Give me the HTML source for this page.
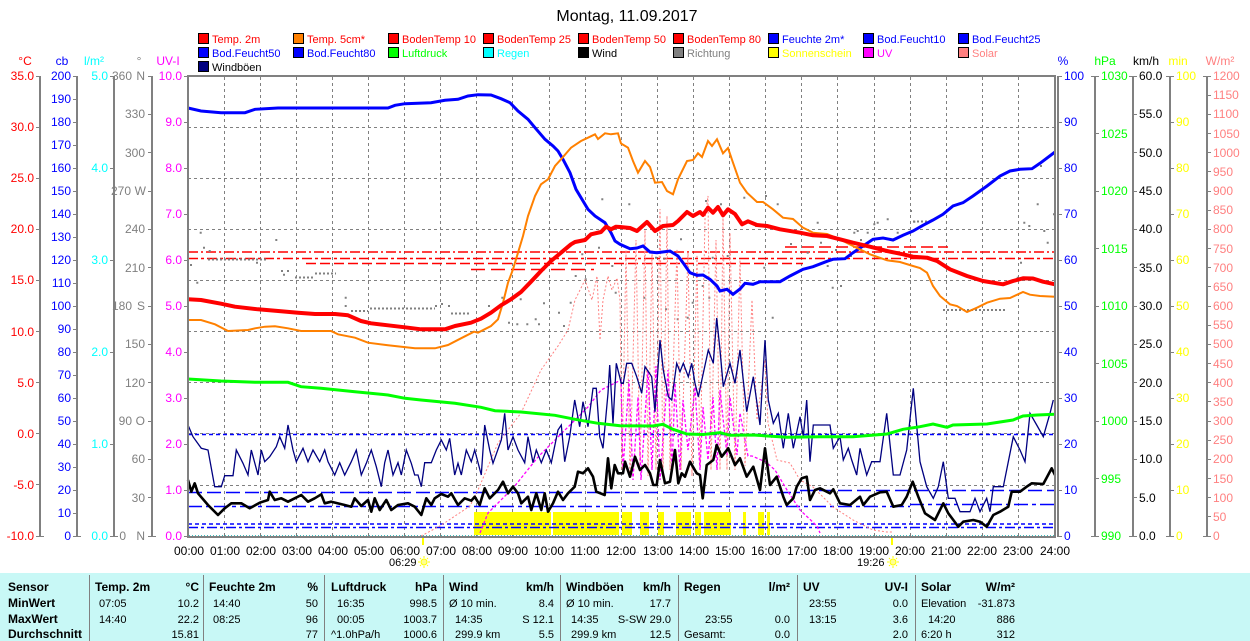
<!DOCTYPE html>
<html><head><meta charset="utf-8"><style>
html,body{margin:0;padding:0;background:#fff;}
svg{display:block;font-family:"Liberation Sans",Arial,sans-serif;}
</style></head><body>
<svg width="1250" height="641" viewBox="0 0 1250 641" xmlns="http://www.w3.org/2000/svg">
<rect width="1250" height="641" fill="#fff"/>
<text x="627" y="21" font-size="16" text-anchor="middle" fill="#000">Montag, 11.09.2017</text>

<!-- legend -->
<g font-size="11" stroke="none">
<g stroke="#000" stroke-width="1">
<rect x="198.5" y="33.5" width="10" height="10" fill="#ff0000"/>
<rect x="293.5" y="33.5" width="10" height="10" fill="#ff8000"/>
<rect x="388.5" y="33.5" width="10" height="10" fill="#ff0000"/>
<rect x="483.5" y="33.5" width="10" height="10" fill="#ff0000"/>
<rect x="578.5" y="33.5" width="10" height="10" fill="#ff0000"/>
<rect x="673.5" y="33.5" width="10" height="10" fill="#ff0000"/>
<rect x="768.5" y="33.5" width="10" height="10" fill="#0000ff"/>
<rect x="863.5" y="33.5" width="10" height="10" fill="#0000ff"/>
<rect x="958.5" y="33.5" width="10" height="10" fill="#0000ff"/>
<rect x="198.5" y="47.5" width="10" height="10" fill="#0000ff"/>
<rect x="293.5" y="47.5" width="10" height="10" fill="#0000ff"/>
<rect x="388.5" y="47.5" width="10" height="10" fill="#00ff00"/>
<rect x="483.5" y="47.5" width="10" height="10" fill="#00ffff"/>
<rect x="578.5" y="47.5" width="10" height="10" fill="#000000"/>
<rect x="673.5" y="47.5" width="10" height="10" fill="#808080"/>
<rect x="768.5" y="47.5" width="10" height="10" fill="#ffff00"/>
<rect x="863.5" y="47.5" width="10" height="10" fill="#ff00ff"/>
<rect x="958.5" y="47.5" width="10" height="10" fill="#ff8080"/>
<rect x="198.5" y="61.5" width="10" height="10" fill="#000080"/>
</g>
<text x="212" y="43" fill="#ff0000">Temp. 2m</text>
<text x="307" y="43" fill="#ff0000">Temp. 5cm*</text>
<text x="402" y="43" fill="#ff0000">BodenTemp 10</text>
<text x="497" y="43" fill="#ff0000">BodenTemp 25</text>
<text x="592" y="43" fill="#ff0000">BodenTemp 50</text>
<text x="687" y="43" fill="#ff0000">BodenTemp 80</text>
<text x="782" y="43" fill="#0000ff">Feuchte 2m*</text>
<text x="877" y="43" fill="#0000ff">Bod.Feucht10</text>
<text x="972" y="43" fill="#0000ff">Bod.Feucht25</text>
<text x="212" y="57" fill="#0000ff">Bod.Feucht50</text>
<text x="307" y="57" fill="#0000ff">Bod.Feucht80</text>
<text x="402" y="57" fill="#00ff00">Luftdruck</text>
<text x="497" y="57" fill="#00ffff">Regen</text>
<text x="592" y="57" fill="#000000">Wind</text>
<text x="687" y="57" fill="#808080">Richtung</text>
<text x="782" y="57" fill="#ffff00">Sonnenschein</text>
<text x="877" y="57" fill="#ff00ff">UV</text>
<text x="972" y="57" fill="#ff8080">Solar</text>
<text x="212" y="71" fill="#000000">Windböen</text>
</g>

<!-- axis titles -->
<g font-size="12">
<text x="25" y="65" text-anchor="middle" fill="#ff0000">°C</text>
<text x="62" y="65" text-anchor="middle" fill="#0000ff">cb</text>
<text x="94" y="65" text-anchor="middle" fill="#00ffff">l/m²</text>
<text x="139" y="65" text-anchor="middle" fill="#808080">°</text>
<text x="168" y="65" text-anchor="middle" fill="#ff00ff">UV-I</text>
<text x="1063" y="65" text-anchor="middle" fill="#0000ff">%</text>
<text x="1105" y="65" text-anchor="middle" fill="#00ff00">hPa</text>
<text x="1146" y="65" text-anchor="middle" fill="#000">km/h</text>
<text x="1178" y="65" text-anchor="middle" fill="#ffff00">min</text>
<text x="1220" y="65" text-anchor="middle" fill="#ff8080">W/m²</text>
</g>

<!-- axis lines -->
<g stroke="#808080" stroke-width="2" fill="none">
<path d="M40 76V537M77 76V537M114 76V537M152 76V537M1095 76V537M1133 76V537M1170 76V537M1207 76V537"/>
</g>
<g stroke="#808080" stroke-width="1" fill="none">
<path d="M36 76.5H40M36 127.5H40M36 178.5H40M36 229.5H40M36 280.5H40M36 331.5H40M36 382.5H40M36 433.5H40M36 484.5H40M36 536.5H44"/>
<path d="M73 76.5H77M73 99.5H77M73 122.5H77M73 145.5H77M73 168.5H77M73 191.5H77M73 214.5H77M73 237.5H77M73 260.5H77M73 283.5H77M73 306.5H77M73 329.5H77M73 352.5H77M73 375.5H77M73 398.5H77M73 421.5H77M73 444.5H77M73 467.5H77M73 490.5H77M73 513.5H77M73 536.5H81"/>
<path d="M110 76.5H114M110 168.5H114M110 260.5H114M110 352.5H114M110 444.5H114M110 536.5H118"/>
<path d="M148 76.5H152M148 114.5H152M148 152.5H152M148 191.5H152M148 229.5H152M148 267.5H152M148 306.5H152M148 344.5H152M148 382.5H152M148 421.5H152M148 459.5H152M148 497.5H152M148 536.5H156"/>
<path d="M184 76.5H188M184 122.5H188M184 168.5H188M184 214.5H188M184 260.5H188M184 306.5H188M184 352.5H188M184 398.5H188M184 444.5H188M184 490.5H188M184 536.5H188"/>
<path d="M1058 76.5H1062M1058 122.5H1062M1058 168.5H1062M1058 214.5H1062M1058 260.5H1062M1058 306.5H1062M1058 352.5H1062M1058 398.5H1062M1058 444.5H1062M1058 490.5H1062M1058 536.5H1062"/>
<path d="M1091 76.5H1099M1095 133.5H1099M1095 191.5H1099M1095 248.5H1099M1095 306.5H1099M1095 363.5H1099M1095 421.5H1099M1095 478.5H1099M1091 536.5H1099"/>
<path d="M1129 76.5H1137M1133 114.5H1137M1133 152.5H1137M1133 191.5H1137M1133 229.5H1137M1133 267.5H1137M1133 306.5H1137M1133 344.5H1137M1133 382.5H1137M1133 421.5H1137M1133 459.5H1137M1133 497.5H1137M1129 536.5H1137"/>
<path d="M1166 76.5H1174M1170 122.5H1174M1170 168.5H1174M1170 214.5H1174M1170 260.5H1174M1170 306.5H1174M1170 352.5H1174M1170 398.5H1174M1170 444.5H1174M1170 490.5H1174M1166 536.5H1174"/>
<path d="M1203 76.5H1211M1207 95.5H1211M1207 114.5H1211M1207 133.5H1211M1207 152.5H1211M1207 171.5H1211M1207 191.5H1211M1207 210.5H1211M1207 229.5H1211M1207 248.5H1211M1207 267.5H1211M1207 286.5H1211M1207 306.5H1211M1207 325.5H1211M1207 344.5H1211M1207 363.5H1211M1207 382.5H1211M1207 401.5H1211M1207 421.5H1211M1207 440.5H1211M1207 459.5H1211M1207 478.5H1211M1207 497.5H1211M1207 516.5H1211M1203 536.5H1211"/>
</g>

<!-- axis labels -->
<g font-size="12">
<g fill="#ff0000" text-anchor="end">
<text x="34" y="80">35.0</text><text x="34" y="131">30.0</text><text x="34" y="182">25.0</text><text x="34" y="233">20.0</text><text x="34" y="284">15.0</text><text x="34" y="336">10.0</text><text x="34" y="387">5.0</text><text x="34" y="438">0.0</text><text x="34" y="489">-5.0</text><text x="34" y="540">-10.0</text>
</g>
<g fill="#0000ff" text-anchor="end">
<text x="71" y="80">200</text><text x="71" y="103">190</text><text x="71" y="126">180</text><text x="71" y="149">170</text><text x="71" y="172">160</text><text x="71" y="195">150</text><text x="71" y="218">140</text><text x="71" y="241">130</text><text x="71" y="264">120</text><text x="71" y="287">110</text><text x="71" y="310">100</text><text x="71" y="333">90</text><text x="71" y="356">80</text><text x="71" y="379">70</text><text x="71" y="402">60</text><text x="71" y="425">50</text><text x="71" y="448">40</text><text x="71" y="471">30</text><text x="71" y="494">20</text><text x="71" y="517">10</text><text x="71" y="540">0</text>
</g>
<g fill="#00ffff" text-anchor="end">
<text x="108" y="80">5.0</text><text x="108" y="172">4.0</text><text x="108" y="264">3.0</text><text x="108" y="356">2.0</text><text x="108" y="448">1.0</text><text x="108" y="540">0.0</text>
</g>
<g fill="#808080" text-anchor="end">
<text x="132" y="80">360</text><text x="145" y="80">N</text>
<text x="145" y="118">330</text><text x="145" y="157">300</text>
<text x="131" y="195">270</text><text x="146" y="195">W</text>
<text x="145" y="233">240</text><text x="145" y="272">210</text>
<text x="132" y="310">180</text><text x="145" y="310">S</text>
<text x="145" y="348">150</text><text x="145" y="387">120</text>
<text x="132" y="425">90</text><text x="145" y="425">O</text>
<text x="145" y="463">60</text><text x="145" y="502">30</text>
<text x="126" y="540">0</text><text x="145" y="540">N</text>
</g>
<g fill="#ff00ff" text-anchor="end">
<text x="182" y="80">10.0</text><text x="182" y="126">9.0</text><text x="182" y="172">8.0</text><text x="182" y="218">7.0</text><text x="182" y="264">6.0</text><text x="182" y="310">5.0</text><text x="182" y="356">4.0</text><text x="182" y="402">3.0</text><text x="182" y="448">2.0</text><text x="182" y="494">1.0</text><text x="182" y="540">0.0</text>
</g>
<g fill="#0000ff">
<text x="1064" y="80">100</text><text x="1064" y="126">90</text><text x="1064" y="172">80</text><text x="1064" y="218">70</text><text x="1064" y="264">60</text><text x="1064" y="310">50</text><text x="1064" y="356">40</text><text x="1064" y="402">30</text><text x="1064" y="448">20</text><text x="1064" y="494">10</text><text x="1064" y="540">0</text>
</g>
<g fill="#00ff00">
<text x="1101" y="80">1030</text><text x="1101" y="138">1025</text><text x="1101" y="195">1020</text><text x="1101" y="253">1015</text><text x="1101" y="310">1010</text><text x="1101" y="368">1005</text><text x="1101" y="425">1000</text><text x="1101" y="483">995</text><text x="1101" y="540">990</text>
</g>
<g fill="#000">
<text x="1139" y="80">60.0</text><text x="1139" y="118">55.0</text><text x="1139" y="157">50.0</text><text x="1139" y="195">45.0</text><text x="1139" y="233">40.0</text><text x="1139" y="272">35.0</text><text x="1139" y="310">30.0</text><text x="1139" y="348">25.0</text><text x="1139" y="387">20.0</text><text x="1139" y="425">15.0</text><text x="1139" y="463">10.0</text><text x="1139" y="502">5.0</text><text x="1139" y="540">0.0</text>
</g>
<g fill="#ffff00">
<text x="1176" y="80">100</text><text x="1176" y="126">90</text><text x="1176" y="172">80</text><text x="1176" y="218">70</text><text x="1176" y="264">60</text><text x="1176" y="310">50</text><text x="1176" y="356">40</text><text x="1176" y="402">30</text><text x="1176" y="448">20</text><text x="1176" y="494">10</text><text x="1176" y="540">0</text>
</g>
<g fill="#ff8080">
<text x="1213" y="80">1200</text><text x="1213" y="99">1150</text><text x="1213" y="118">1100</text><text x="1213" y="138">1050</text><text x="1213" y="157">1000</text><text x="1213" y="176">950</text><text x="1213" y="195">900</text><text x="1213" y="214">850</text><text x="1213" y="233">800</text><text x="1213" y="253">750</text><text x="1213" y="272">700</text><text x="1213" y="291">650</text><text x="1213" y="310">600</text><text x="1213" y="329">550</text><text x="1213" y="348">500</text><text x="1213" y="368">450</text><text x="1213" y="387">400</text><text x="1213" y="406">350</text><text x="1213" y="425">300</text><text x="1213" y="444">250</text><text x="1213" y="463">200</text><text x="1213" y="483">150</text><text x="1213" y="502">100</text><text x="1213" y="521">50</text><text x="1213" y="540">0</text>
</g>
</g>

<!-- grid -->
<g stroke="#808080" stroke-width="1" stroke-dasharray="3,3" fill="none">
<path d="M188 127.5H1055M188 178.5H1055M188 229.5H1055M188 280.5H1055M188 331.5H1055M188 382.5H1055M188 433.5H1055M188 485.5H1055"/>
<path d="M224.5 77V536M260.5 77V536M296.5 77V536M332.5 77V536M368.5 77V536M404.5 77V536M440.5 77V536M476.5 77V536M512.5 77V536M549.5 77V536M585.5 77V536M621.5 77V536M657.5 77V536M693.5 77V536M729.5 77V536M765.5 77V536M801.5 77V536M837.5 77V536M874.5 77V536M910.5 77V536M946.5 77V536M982.5 77V536M1018.5 77V536"/>
</g>

<!-- time labels -->
<g font-size="12" fill="#000" text-anchor="middle">
<text x="189" y="555">00:00</text><text x="225" y="555">01:00</text><text x="261" y="555">02:00</text><text x="297" y="555">03:00</text><text x="333" y="555">04:00</text><text x="369" y="555">05:00</text><text x="405" y="555">06:00</text><text x="441" y="555">07:00</text><text x="477" y="555">08:00</text><text x="513" y="555">09:00</text><text x="549" y="555">10:00</text><text x="585" y="555">11:00</text><text x="621" y="555">12:00</text><text x="658" y="555">13:00</text><text x="694" y="555">14:00</text><text x="730" y="555">15:00</text><text x="766" y="555">16:00</text><text x="802" y="555">17:00</text><text x="838" y="555">18:00</text><text x="874" y="555">19:00</text><text x="910" y="555">20:00</text><text x="946" y="555">21:00</text><text x="982" y="555">22:00</text><text x="1018" y="555">23:00</text><text x="1055" y="555">24:00</text>
</g>
<g font-size="11" fill="#000">
<text x="389" y="566">06:29</text>
<text x="857" y="566">19:26</text>
</g>
<g stroke="#ffff00" stroke-width="2">
<path d="M423 536V545M892 536V545"/>
</g>
<g fill="#ffff90" stroke="#ffff00" stroke-width="1">
<circle cx="424" cy="562" r="3"/>
<circle cx="893" cy="562" r="3"/>
<path d="M424 556V558M424 566V568M418 562H420M428 562H430M420 558L421 559M428 558L427 559M420 566L421 565M428 566L427 565" fill="none"/>
<path d="M893 556V558M893 566V568M887 562H889M897 562H899M889 558L890 559M897 558L896 559M889 566L890 565M897 566L896 565" fill="none"/>
</g>

<!-- sunshine bars -->
<g fill="#ffff00">
<rect x="474" y="512" width="77" height="23"/>
<rect x="553" y="512" width="66" height="23"/>
<rect x="622" y="512" width="10" height="23"/>
<rect x="640" y="512" width="9" height="23"/>
<rect x="658" y="512" width="6" height="23"/>
<rect x="676" y="512" width="15" height="23"/>
<rect x="695" y="512" width="6" height="23"/>
<rect x="704" y="512" width="27" height="23"/>
<rect x="743" y="512" width="3" height="23"/>
<rect x="758" y="512" width="6" height="23"/>
<rect x="767" y="512" width="3" height="23"/>
</g>

<!-- red dashed reference lines -->
<g stroke="#ff0000" stroke-width="1.5" fill="none">
<path d="M188 252H1055" stroke-dasharray="10,3,2,3"/>
<path d="M188 258.5H1055" stroke-dasharray="10,3,3,3"/>
<path d="M306 263.5H803" stroke-dasharray="10,4"/>
<path d="M471 269.5H594" stroke-dasharray="14,6"/>
<path d="M785 247H948" stroke-dasharray="12,5"/>
</g>

<!-- blue reference lines -->
<g stroke="#0000ff" stroke-width="1.5" fill="none">
<path d="M188 434.5H1055" stroke-dasharray="4,3"/>
<path d="M188 492.5H800" stroke-dasharray="14,5"/>
<path d="M800 490.5H1055" stroke-dasharray="14,5"/>
<path d="M188 506.5H910" stroke-dasharray="14,4,4,4"/>
<path d="M910 504.5H1055" stroke-dasharray="14,4,4,4"/>
<path d="M188 524H1055" stroke-dasharray="4,3"/>
<path d="M188 527.5H1055" stroke-dasharray="10,3,3,3"/>
</g>

<!-- Richtung dots -->
<g stroke="#808080" stroke-width="2" fill="none">
<path d="M199.7 232.7h2M275.3 240h2M203 247.7h2M208.7 251h2M190 265h2M196.3 282.7h2M256 262.7h2M281 271h2M287 271h2M283 274.7h2M344.7 297.7h2M344.7 306h2M435 306h2M441 304h2M448 306h2M488 306h2M501.3 297.7h2M519.7 299.3h2M508 322.7h2M516.3 324.3h2M526.3 324.3h2M538 324.3h2M534.7 319.3h2M558 312.7h2M543 303.3h2M584.7 279.3h2M574.7 276h2M601.3 199.3h2M598 247.7h2M611.3 266h2M581.3 254.3h2M569.7 302.7h2M614.7 292.7h2M563 326h2M628.3 204.3h2M655 231h2M680 239.3h2M663.3 258.7h2M655 257.7h2M643.3 297.7h2M665 309.3h2M676.7 319.3h2M686.7 317.7h2M691.7 302.7h2M701.7 286h2M705 201h2M708.3 297.7h2M711.7 257.7h2M720 204.3h2M726.7 256h2M730 212.7h2M743.3 197.7h2M755 226h2M763.3 267.7h2M765 196h2M776.7 204.3h2M771.7 317.7h2M801.7 232.7h2M806.7 252.7h2M816.7 222.7h2M820 242.7h2M826.7 266h2M831.7 287.7h2M840 286h2M850 256h2M853.3 232.7h2M856.7 231h2M866.7 232.7h2M873.3 224.3h2M876.7 222.7h2M886.7 219.3h2M896.7 232.7h2M910 211h2M913.3 221.7h2M1016.7 277.7h2M1020 262.7h2M1023.3 222.7h2M1028.3 226h2M1036.7 204.3h2M1043.3 231h2M1046.7 242.7h2M1053 214.3h2M1040 166h2M790 244h2M835 250h2M860 240h2"/>
</g>
<g stroke="#808080" stroke-width="2" stroke-dasharray="2,2" fill="none">
<path d="M208 259.5H268M295 277.5H315M315 273.5H336M351 311H368M370 308.5H435M451 313.5H471M913 221.5H930M943 310H1007"/>
</g>

<!-- Solar (dotted salmon) -->
<polyline fill="none" stroke="#ff8080" stroke-width="1" stroke-dasharray="2,2" points="421,536 440,526 470,506 478,490 498,443 521,413 541,370 558,346 568,330 575,300 585,280 592,300 597,276 600,340 603,300 608,276 612,290 617,278 620,300 622,470 626,250 630,478 636,240 640,470 645,230 648,476 652,250 656,470 660,209 663,478 667,216 670,470 677,249 681,470 688,252 692,476 697,255 700,470 705,219 708,196 711,470 716,240 720,470 723,216 727,470 730,233 735,470 740,260 745,466 752,300 757,420 765,360 768,423 777,460 790,463 800,480 813,487 833,507 853,520 873,530 887,532 893,532"/>

<!-- UV (dotted magenta) -->
<polyline fill="none" stroke="#ff00ff" stroke-width="1.3" stroke-dasharray="3,2" points="480,533 488,513 514,487 538,457 565,430 588,407 601,390 615,383 621,380 623,470 629,380 633,480 638,397 641,480 648,370 652,470 656,366 660,480 668,370 672,470 675,383 680,470 683,400 688,450 695,387 700,470 703,407 708,460 713,397 717,470 720,390 727,455 730,397 737,455 740,413 748,456 752,456 766,462 775,470 787,490 800,510 817,526 820,533"/>

<!-- Windböen -->
<polyline fill="none" stroke="#000080" stroke-width="1.3" points="188,425 193,436.7 201.3,448.3 208,450 214.7,486.7 221.3,486.7 224.7,475.7 233,475.7 236.3,450 243,463.3 248,475 251.3,450 258,475 261.3,450 264.7,461.7 269.7,456.7 276.3,446.7 279.7,436.7 284.7,448.3 288,425 293,450 296.3,461.7 303,448.3 308,461.7 313,450 319.7,461.7 324.7,450 328,461.7 334.7,475 339.7,462.7 344.7,475 351.3,461.7 356.3,450 361.3,475 366.3,463.3 371.3,450 376.3,466.7 381.3,486.7 384.7,462.7 388,450 393,475 398,462.7 401.3,475 406.3,450 411.3,463.3 414.7,475 418,475 421.3,486.7 424.7,462.7 431.3,462.7 436.3,450 441.3,440 446.3,450 449.7,438.3 454.7,475 458,463.3 461.3,475 466.3,450 471.3,461.7 474.7,450 481.3,475 484.7,425 489.7,450 493,463.3 501.3,440 504.7,413.3 508,450 513,436.7 518,450 524.7,462.7 528,436.7 533,462.7 536.3,450 541.3,462.7 546.3,450 551.3,462.7 558,430 561.3,425 564.7,461.7 569.7,436.7 574.7,400 579.7,426.7 583,401.7 588,426.7 593,388.3 596.3,388.3 599.7,436.7 603,448.3 608,393.3 609.7,365 613,423.3 616.3,363.3 621.3,383.3 623.3,383.3 626.7,363.3 631.7,363.3 636.7,376.7 641.7,393.3 645,366.7 651.7,376.7 655,411.7 660,340 663.3,370 668.3,396.7 671.7,400 676.7,363.3 680,371.7 683.3,363.3 688.3,376.7 691.7,363.3 695,383.3 698.3,396.7 703.3,373.3 708.3,350 713.3,363.3 716.7,318 720,350 723.3,386.7 730,363.3 735,383.3 740,350 746.7,411.7 753.3,376.7 760,425 765,340 768.3,400 773.3,423.3 778.3,413.3 783.3,448.3 788.3,413.3 793.3,448.3 800,416.7 803.3,436.7 806.7,400 810,461.7 813.3,425 830,425 833.3,448.3 840,436.7 843.3,460 848.3,448.3 851.7,460 856.7,475 860,448.3 866.7,475 871.7,461.7 880,461.7 886.7,413.3 893.3,475 900,475 906.7,450 913.3,388.3 920,461.7 926.7,486.7 933.3,498.3 938.3,486.7 943.3,461.7 948.3,498.3 955,498.3 960,511.7 970,511.7 975,498.3 980,511.7 986.7,498.3 990,511.7 993.3,486.7 1003.3,486.7 1008.3,461.7 1013.3,436.7 1020,450 1025,461.7 1030,413.3 1036.7,425 1043.3,436.7 1050,413.3 1053.3,400"/>

<!-- Wind -->
<polyline fill="none" stroke="#000" stroke-width="2.6" stroke-linejoin="round" points="188,480 191.3,491.7 194.7,483.3 198,493.3 208,505 218,515 224.7,508.3 231.3,503.3 241.3,503.3 249.7,508.3 259.7,502.7 268,500 269.7,491.7 274.7,500 281.3,498.3 288,501.7 294.7,498.3 301.3,495 308,501.7 314.7,498.3 321.3,494.3 324.7,503.3 331.3,501.7 344.7,505 351.3,506.7 354.7,498.3 361.3,506 368,500 371.3,511.7 374.7,498.3 379.7,510 386.3,500 391.3,510 398,505 408,503.3 414.7,506.7 421.3,515 426.3,498.3 431.3,505 434.7,498.3 441.3,494 448,496.7 451.3,493.3 458,505 464.7,498.3 471.3,500.7 474.7,496.7 479.7,505 484.7,488.3 489.7,498.3 494.7,493.3 498,490 503,481.7 508,493.3 513,486.7 518,493.3 521.3,503.3 528,496.7 531.3,510 536.3,493.3 541.3,510 544.7,493.3 548,511.7 553,503.3 558,491.7 563,500 568,493.3 574.7,486.7 578,471.7 583,473.3 588,468.3 593,476.7 596.3,491.7 604.7,495 608,458.3 611.3,488.3 614.7,465 618,473.3 623,473.3 625,461.7 630,476.7 635,456.7 640,470 645,465 650,473.3 653.3,485 656.7,485 660,460 665,483.3 670,481.7 675,450 678.3,483.3 681.7,473.3 685,476.7 690,461.7 696.7,473.3 700,475 702.7,498.3 706.7,465 713.3,460 716.7,445 721.7,456.7 728.3,448.3 735,465 740,458.3 746.7,476.7 753.3,466.7 760,490 765,448.3 770,485 776.7,476.7 783.3,496.7 786.7,505 793.3,498.3 796.7,486.7 801.7,478.3 806.7,476.7 810,500 815,490 820,488.3 830,493.3 833.3,489.3 840,503.3 850,505 860,496.7 863.3,505 870,496.7 880,492.3 886.7,491.7 893.3,506.7 901.7,505 906.7,496.7 912.7,481.7 918.3,496.7 925,513.3 935,520 943.3,503.3 948.3,513.3 953.3,520 958.3,526.7 963.3,521.7 973.3,520 980,521.7 986.7,526.7 993.3,515 1000,511.7 1008.3,506.7 1011.7,491.7 1020,491.7 1026.7,486.7 1031.7,483.3 1043.3,484 1051.7,468.3 1055,475"/>

<!-- Luftdruck -->
<polyline fill="none" stroke="#00ff00" stroke-width="3" points="188,379 221,381 255,382.3 288,382.3 301,386.7 321,388.3 355,391.7 388,395 405,398.3 421,400 455,403.3 481,407.3 495,410.7 521,412 555,415.3 575,419.3 598,423.3 620,425.7 653,426 663,424.3 673,429.3 687,434 703,434.5 720,432.7 730,435.3 753,435 787,437.3 820,436.7 853,436.7 887,434 903,429.3 920,426.7 933,424 947,427.3 953,425 987,424 1013,420 1023,416 1037,415 1055,414.3"/>

<!-- Feuchte 2m -->
<polyline fill="none" stroke="#0000ff" stroke-width="3" points="188,108 201,111 221,112.7 245,112.7 255,109.3 278,108 388,108 395,105.3 405,103.7 431,102.7 445,100.3 458,99.3 468,96 478,94.7 491,95 501,98.7 510,102.7 518,111 528,119.3 535,127.7 545,139.3 553,146 558,151 563,159.3 570,172.7 576,189.3 583,201 588,209.3 595,216 605,222.7 611,232.7 615,241 620,244.3 630,248.7 637,248 643,246 650,252 657,252.7 670,251 678,256 683,262.7 690,272.7 697,275.3 703,275 710,279.3 717,286 720,291 727,289.3 733,294.3 740,289 745,283.3 753,284.3 760,281.7 780,281.7 790,276 803,269.3 813,266.7 827,261.3 833,259.3 845,258.7 853,252.7 863,246 873,239.3 883,238 893,240 903,235.3 913,231 923,225.3 933,220 943,214.3 953,206 963,202.7 973,196 987,186 1000,176 1010,171 1020,169.3 1032,168.7 1040,163.3 1055,152"/>

<!-- Temp 5cm -->
<polyline fill="none" stroke="#ff8000" stroke-width="2" points="188,320 201,320 215,324.3 228,331 248,330 255,328.3 265,326.7 275,326.3 288,328.3 301,331 331,331 338,334.3 355,337.7 368,342.7 388,345.3 415,348.3 435,348.3 448,345 461,338.3 474,331.7 478,332.7 491,326 498,319.3 503,302.7 508,282.7 513,269.3 518,252.7 523,236 528,216 535,196 541,184.3 548,179.3 555,166 561,159.3 571,147.7 581,141 588,137.7 595,134.3 598,139 605,133.3 611,134.3 618,133.3 621,143.5 628,147.7 633,161 638,172.7 645,161 650,167 655,182.7 662,182 667,191 673,194.3 678,179.3 687,161 693,160 698,153.3 702,157 708,141 712,146 717,139.3 723,153.3 728,148 733,162.7 740,182.7 747,192.7 757,202 763,202 773,209.3 783,217.7 793,219 803,227.7 813,232.7 827,234 840,239.3 853,246 870,254.3 887,260.3 900,262 913,266 920,268 927,272.7 933,286 940,296 950,304.3 957,306 967,312 977,307.7 987,302.7 1000,298.7 1010,298 1023,292 1030,294.7 1040,296 1055,296.7"/>

<!-- Temp 2m -->
<polyline fill="none" stroke="#ff0000" stroke-width="4" stroke-linejoin="round" points="188,299.3 201,300 221,303.7 235,306.7 258,309.3 281,311.3 298,312.7 315,314 335,314 348,315.3 361,321 371,323.3 388,325.3 405,327.3 421,329.3 445,329.3 455,326 471,322.7 481,318.7 491,312.7 501,305.3 511,299.3 521,292 531,281.7 541,271 551,261 561,252.7 571,244.3 575,242 585,240 591,234.3 601,232 606,226.7 611,229.3 616,226.7 620,227 630,228 637,231 647,222 655,231 663,226 673,225 678,221 687,212 693,216 700,212 703,215 708,207.7 713,212.7 718,207 723,215.3 728,209.3 735,214 742,224.3 748,221.3 757,225 767,226 780,229.3 800,232.7 813,235.3 827,236 840,239.3 853,242.7 870,246.7 887,251 903,254.3 913,256.7 927,257.7 937,261 950,269.3 967,276 983,281 1003,284.3 1013,281 1023,278.3 1033,278.5 1043,281.7 1055,284.3"/>

<!-- plot frame -->
<g fill="none" stroke="#808080" stroke-width="2">
<path d="M188 76H1055V537H188Z"/>
<path d="M1058 76V537"/>
</g>
<path d="M189 535.5H1054" stroke="#40c0c0" stroke-width="1" stroke-dasharray="1,2" fill="none"/>

<!-- table -->
<rect x="0" y="573" width="1250" height="68" fill="#c8f8f6"/>
<g stroke="#808080" stroke-width="1">
<path d="M89.5 575V641M203.5 575V641M324.5 575V641M443.5 575V641M560.5 575V641M678.5 575V641M797.5 575V641M915.5 575V641"/>
</g>
<g font-size="12" fill="#000">
<g font-weight="bold">
<text x="8" y="591">Sensor</text>
<text x="8" y="607">MinWert</text>
<text x="8" y="623">MaxWert</text>
<text x="8" y="638">Durchschnitt</text>
<text x="95" y="591">Temp. 2m</text>
<text x="199" y="591" text-anchor="end">°C</text>
<text x="209" y="591">Feuchte 2m</text>
<text x="318" y="591" text-anchor="end">%</text>
<text x="331" y="591">Luftdruck</text>
<text x="437" y="591" text-anchor="end">hPa</text>
<text x="449" y="591">Wind</text>
<text x="554" y="591" text-anchor="end">km/h</text>
<text x="566" y="591">Windböen</text>
<text x="671" y="591" text-anchor="end">km/h</text>
<text x="684" y="591">Regen</text>
<text x="790" y="591" text-anchor="end">l/m²</text>
<text x="803" y="591">UV</text>
<text x="908" y="591" text-anchor="end">UV-I</text>
<text x="921" y="591">Solar</text>
<text x="1015" y="591" text-anchor="end">W/m²</text>
</g>
<g font-size="11">
<text x="99" y="607">07:05</text><text x="199" y="607" text-anchor="end">10.2</text>
<text x="99" y="623">14:40</text><text x="199" y="623" text-anchor="end">22.2</text>
<text x="199" y="638" text-anchor="end">15.81</text>
<text x="213" y="607">14:40</text><text x="318" y="607" text-anchor="end">50</text>
<text x="213" y="623">08:25</text><text x="318" y="623" text-anchor="end">96</text>
<text x="318" y="638" text-anchor="end">77</text>
<text x="337" y="607">16:35</text><text x="437" y="607" text-anchor="end">998.5</text>
<text x="337" y="623">00:05</text><text x="437" y="623" text-anchor="end">1003.7</text>
<text x="331" y="638">^1.0hPa/h</text><text x="437" y="638" text-anchor="end">1000.6</text>
<text x="449" y="607">Ø 10 min.</text><text x="554" y="607" text-anchor="end">8.4</text>
<text x="455" y="623">14:35</text><text x="554" y="623" text-anchor="end">S 12.1</text>
<text x="455" y="638">299.9 km</text><text x="554" y="638" text-anchor="end">5.5</text>
<text x="566" y="607">Ø 10 min.</text><text x="671" y="607" text-anchor="end">17.7</text>
<text x="571" y="623">14:35</text><text x="671" y="623" text-anchor="end">S-SW 29.0</text>
<text x="571" y="638">299.9 km</text><text x="671" y="638" text-anchor="end">12.5</text>
<text x="705" y="623">23:55</text><text x="790" y="623" text-anchor="end">0.0</text>
<text x="684" y="638">Gesamt:</text><text x="790" y="638" text-anchor="end">0.0</text>
<text x="809" y="607">23:55</text><text x="908" y="607" text-anchor="end">0.0</text>
<text x="809" y="623">13:15</text><text x="908" y="623" text-anchor="end">3.6</text>
<text x="908" y="638" text-anchor="end">2.0</text>
<text x="921" y="607">Elevation</text><text x="1015" y="607" text-anchor="end">-31.873</text>
<text x="928" y="623">14:20</text><text x="1015" y="623" text-anchor="end">886</text>
<text x="921" y="638">6:20 h</text><text x="1015" y="638" text-anchor="end">312</text>
</g>
</g>
</svg>
</body></html>
